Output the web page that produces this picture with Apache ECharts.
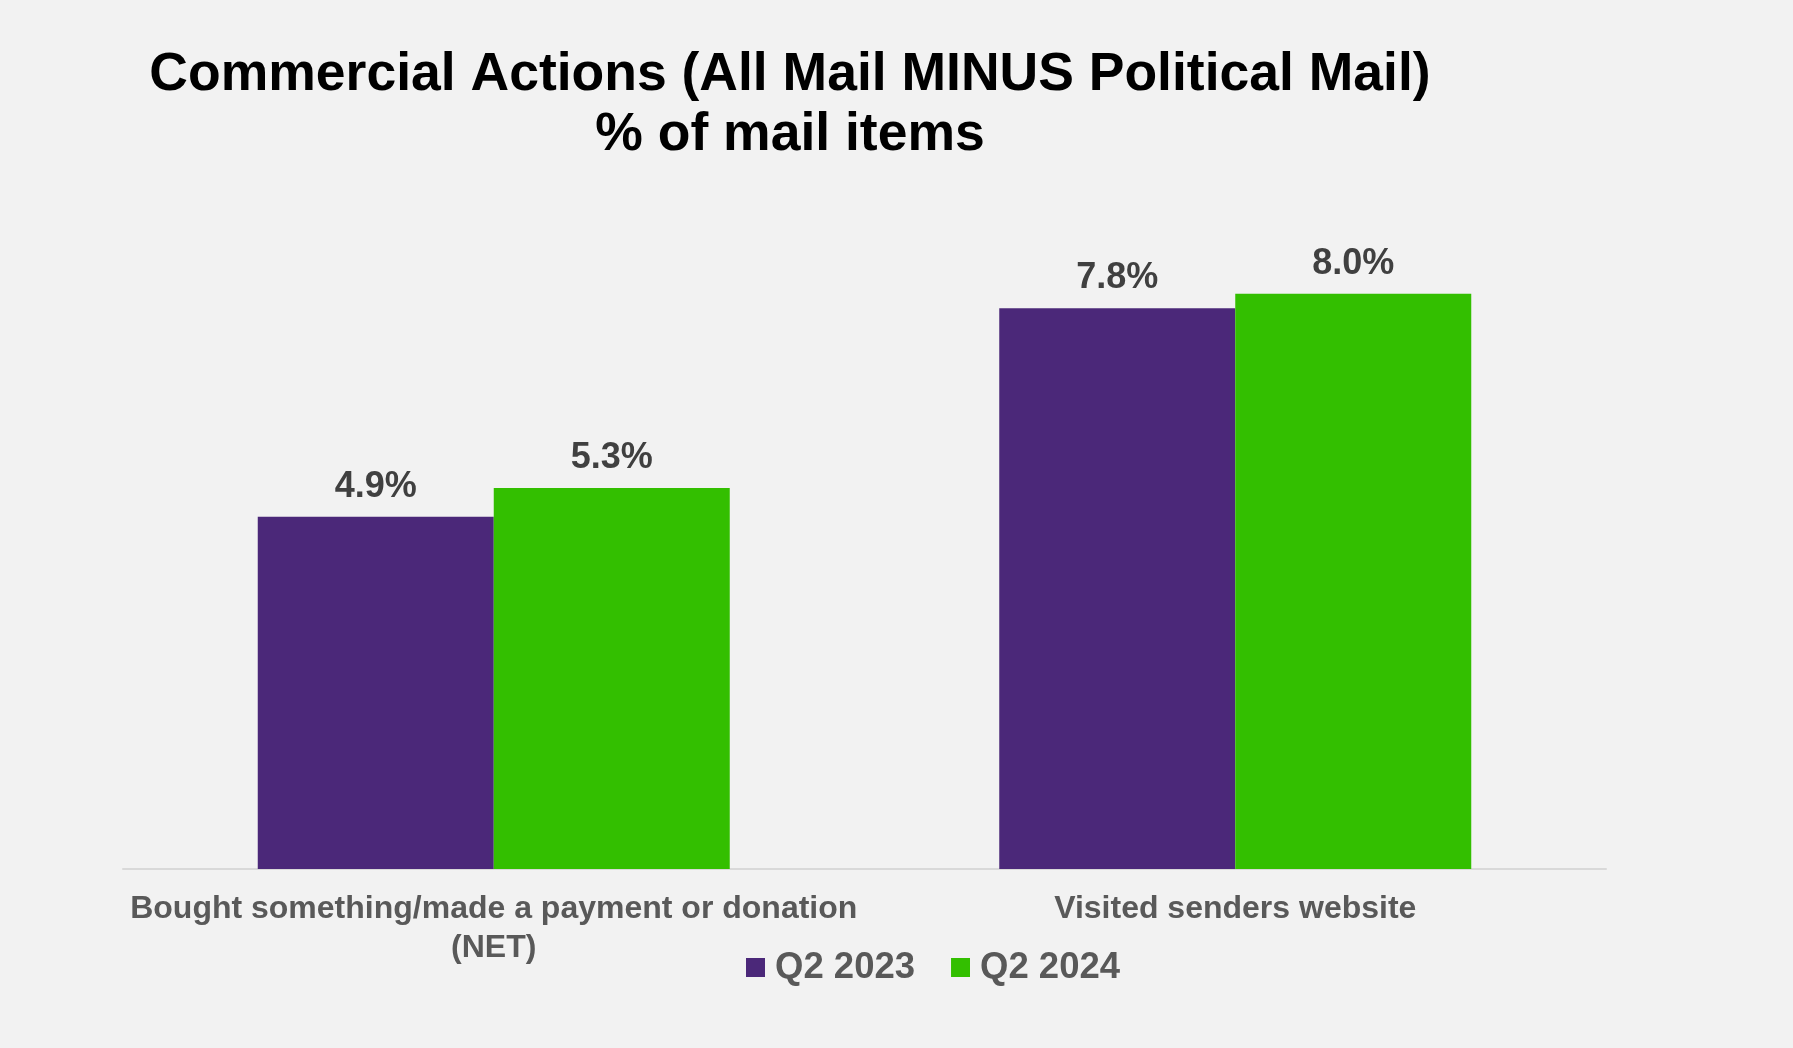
<!DOCTYPE html>
<html>
<head>
<meta charset="utf-8">
<title>Commercial Actions</title>
<script src="https://cdn.jsdelivr.net/npm/echarts@6/dist/echarts.min.js"></script>
<style>
  html, body { margin: 0; padding: 0; background: #f2f2f2; }
  #chart { width: 1793px; height: 1048px; }
</style>
</head>
<body>
<div id="chart"></div>
<script>
// Share of mail items leading to each commercial action
const categories = ['Bought something/made a payment or donation\n(NET)', 'Visited senders website'];
const seriesNames = ['Q2 2023', 'Q2 2024'];
const q2_2023 = [4.9, 7.8];
const q2_2024 = [5.3, 8.0];

const FONT = '"Liberation Sans", Arial, sans-serif';
const colors = ['#4b2879', '#33bf00'];

const chart = echarts.init(document.getElementById('chart'), null, { renderer: 'canvas' });

const labelStyle = {
  show: true,
  position: 'top',
  distance: 12,
  formatter: p => p.value.toFixed(1) + '%',
  fontFamily: FONT,
  fontWeight: 'bold',
  fontSize: 36,
  color: '#404040'
};

chart.setOption({
  backgroundColor: '#f2f2f2',
  animation: false,
  title: {
    text: 'Commercial Actions (All Mail MINUS Political Mail)\n% of mail items',
    left: 790,
    top: 45,
    padding: 0,
    textAlign: 'center',
    textStyle: {
      fontFamily: FONT,
      fontWeight: 'bold',
      fontSize: 53.5,
      lineHeight: 60,
      color: '#000000'
    }
  },
  legend: {
    data: seriesNames,
    left: 746,
    top: 949,
    padding: 0,
    itemWidth: 19,
    itemHeight: 19,
    itemGap: 36,
    icon: 'rect',
    textStyle: {
      fontFamily: FONT,
      fontWeight: 'bold',
      fontSize: 36.5,
      color: '#595959',
      padding: [0, 0, 0, 5]
    }
  },
  grid: {
    left: 123,
    right: 187,
    top: 150,
    bottom: 179,
    containLabel: false
  },
  xAxis: {
    type: 'category',
    data: categories,
    axisLine: { show: true, lineStyle: { color: '#d9d9d9', width: 2 } },
    axisTick: { show: false },
    axisLabel: {
      interval: 0,
      margin: 21,
      fontFamily: FONT,
      fontWeight: 'bold',
      fontSize: 32,
      lineHeight: 39,
      color: '#595959',
      align: 'center'
    }
  },
  yAxis: {
    type: 'value',
    min: 0,
    max: 10,
    show: false,
    splitLine: { show: false }
  },
  series: [
    {
      name: seriesNames[0],
      type: 'bar',
      data: q2_2023,
      barWidth: 236,
      barGap: '0%',
      itemStyle: { color: colors[0] },
      label: labelStyle
    },
    {
      name: seriesNames[1],
      type: 'bar',
      data: q2_2024,
      barWidth: 236,
      barGap: '0%',
      itemStyle: { color: colors[1] },
      label: labelStyle
    }
  ]
});
</script>
</body>
</html>
